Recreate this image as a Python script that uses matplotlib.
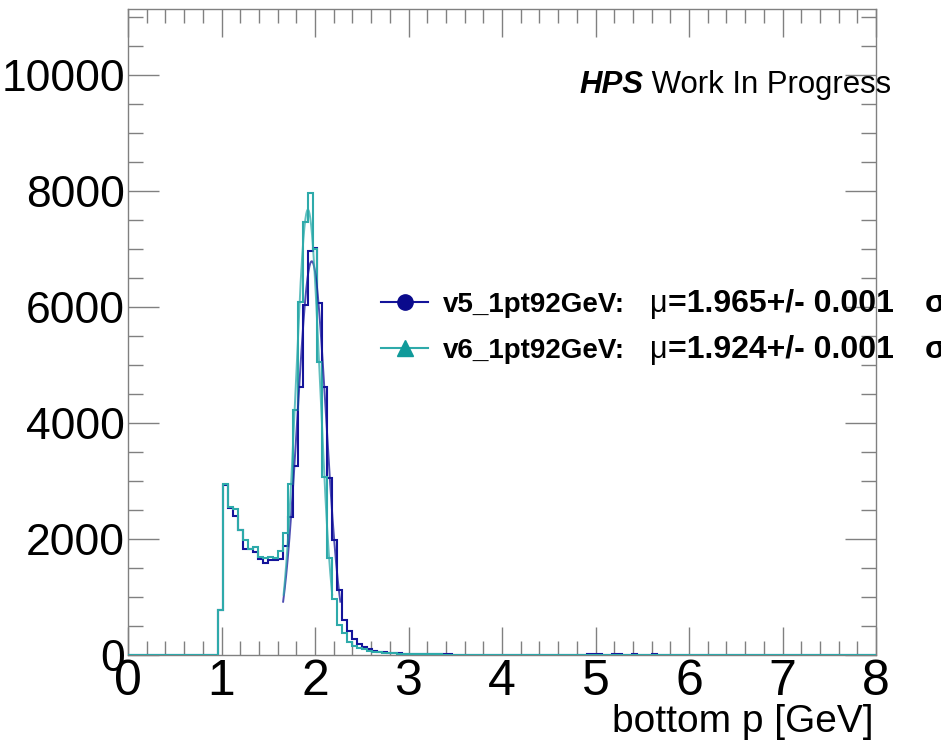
import matplotlib
matplotlib.use('Agg')
import matplotlib.pyplot as plt
import numpy as np
from matplotlib import font_manager
from matplotlib.lines import Line2D

# ---------------- data ----------------
x_min, x_max, n_bins = 0.0, 8.0, 150
first_bin = 18  # first non-empty bin index

v5_counts = [770, 2940, 2540, 2400, 2150, 1830, 1820, 1770, 1650, 1590, 1640, 1645,
             1660, 1880, 2380, 3260, 4620, 6040, 6970, 7010, 6070, 4620, 3050, 1980,
             1115, 606, 416, 271, 190, 133, 98, 75, 58,
             48, 40, 34, 29, 25, 22, 19, 17, 15, 13, 12, 11, 10, 9, 8, 8, 7, 7, 6, 6,
             6, 5, 5, 5, 4, 4, 4, 4, 3, 3, 3, 3, 3, 3, 2, 2, 2, 2, 2, 2,
             3, 12, 14, 11, 2, 2, 13, 12, 2, 2, 10, 2, 2, 2, 9, 2, 2, 8, 2, 1, 1, 1]

v6_counts = [770, 2944, 2550, 2510, 2150, 1975, 1830, 1865, 1690, 1680, 1690, 1680,
             1800, 2110, 2944, 4224, 6090, 7475, 7960, 7000, 5060, 3070, 1675, 965,
             520, 375, 231, 156, 127, 98, 70, 58, 48,
             40, 34, 29, 25, 21, 18, 16, 14, 12, 11, 10, 9, 8, 7, 7, 6, 6, 5, 5, 5,
             5, 4, 4, 4, 4, 3, 3, 3, 3, 3, 3, 2, 2, 2, 2, 2, 2, 2, 2, 2,
             2, 2, 2, 2, 2, 2, 2, 2, 2, 2, 2, 2, 2, 2, 2, 2, 2, 2, 2, 1, 1, 1]

# Gaussian fit results (drawn over mean +/- 2 sigma)
fit_v5 = dict(amp=6790, mu=1.965, sigma=0.153)
fit_v6 = dict(amp=7680, mu=1.924, sigma=0.130)

labels = ["v5_1pt92GeV:", "v6_1pt92GeV:"]
mu_texts = ["=1.965+/- 0.001", "=1.924+/- 0.001"]
sigma_texts = ["\u03c3", "\u03c3"]

y_max = 11140
x_ticks = [0, 1, 2, 3, 4, 5, 6, 7, 8]
y_ticks = [0, 2000, 4000, 6000, 8000, 10000]

# ---------------- style ----------------
W, H, DPI = 941, 741, 100
c5 = '#14149a'
c6 = '#2eaaaa'
c5_mk = '#0a0a8c'
c6_mk = '#109a9a'
axis_col = '#808080'

names = {f.name for f in font_manager.fontManager.ttflist}
sans = 'Liberation Sans' if 'Liberation Sans' in names else 'DejaVu Sans'
plt.rcParams['font.family'] = [sans, 'DejaVu Sans']

fig = plt.figure(figsize=(W / DPI, H / DPI), dpi=DPI)
ax = fig.add_axes([128 / W, 1 - 655 / H, (876 - 128) / W, (655 - 9) / H])

edges = np.linspace(x_min, x_max, n_bins + 1)

def full(counts):
    arr = np.zeros(n_bins)
    arr[first_bin:first_bin + len(counts)] = counts
    return arr

ax.stairs(full(v5_counts), edges, color=c5, lw=1.5, zorder=3)
ax.stairs(full(v6_counts), edges, color=c6, lw=1.5, zorder=4)

for f, col in ((fit_v5, c5), (fit_v6, c6)):
    xs = np.linspace(f['mu'] - 2 * f['sigma'], f['mu'] + 2 * f['sigma'], 300)
    ys = f['amp'] * np.exp(-0.5 * ((xs - f['mu']) / f['sigma']) ** 2)
    ax.plot(xs, ys, color=col, lw=1.4, alpha=0.75, zorder=5)

ax.set_xlim(x_min, x_max)
ax.set_ylim(0, y_max)
ax.set_xticks(x_ticks)
ax.set_yticks(y_ticks)
ax.set_xticks(np.arange(0, 8.001, 0.2), minor=True)
ax.set_yticks(np.arange(0, y_max, 500), minor=True)

for s in ax.spines.values():
    s.set_color(axis_col)
    s.set_linewidth(1.0)

ax.tick_params(which='both', direction='in', top=True, right=True, color=axis_col, width=1.0)
ax.tick_params(axis='x', which='major', length=20, pad=3)
ax.tick_params(axis='x', which='minor', length=10)
ax.tick_params(axis='y', which='major', length=22, pad=2)
ax.tick_params(axis='y', which='minor', length=11)

for lab in ax.get_yticklabels():
    lab.set_fontsize(32)
for lab in ax.get_xticklabels():
    lab.set_fontsize(36)

def fx(px):
    return px / W

def fy(py):
    return 1 - py / H

fig.text(fx(873), fy(732), "bottom p [GeV]", ha='right', va='baseline', fontsize=28)

renderer = fig.canvas.get_renderer()

def place_after(t, text, **kw):
    bb = t.get_window_extent(renderer=renderer)
    return fig.text(bb.x1 / W, t.get_position()[1], text, va='baseline', **kw)

t1 = fig.text(fx(579), fy(93), "HPS", fontsize=22.4, fontweight='bold',
              fontstyle='italic', va='baseline')
place_after(t1, " Work In Progress", fontsize=22.4)

# legend
leg_y = [302, 348]
cols = [c5, c6]
mk_cols = [c5_mk, c6_mk]
markers = ['o', '^']
for i in range(2):
    y = leg_y[i]
    fig.add_artist(Line2D([fx(381), fx(428)], [fy(y), fy(y)], color=cols[i], lw=1.5))
    fig.add_artist(Line2D([fx(405)], [fy(y)], marker=markers[i], color=mk_cols[i],
                          markersize=11, lw=0))
    fig.text(fx(443), fy(y + 10), labels[i], fontsize=20, fontweight='bold', va='baseline')
    tm = fig.text(fx(650), fy(y + 10), "\u03bc", fontsize=22, va='baseline')
    place_after(tm, mu_texts[i], fontsize=23, fontweight='bold')
    fig.text(fx(925), fy(y + 10), sigma_texts[i], fontsize=23, va='baseline',
             fontweight='bold')

fig.savefig('out.png', dpi=DPI)
